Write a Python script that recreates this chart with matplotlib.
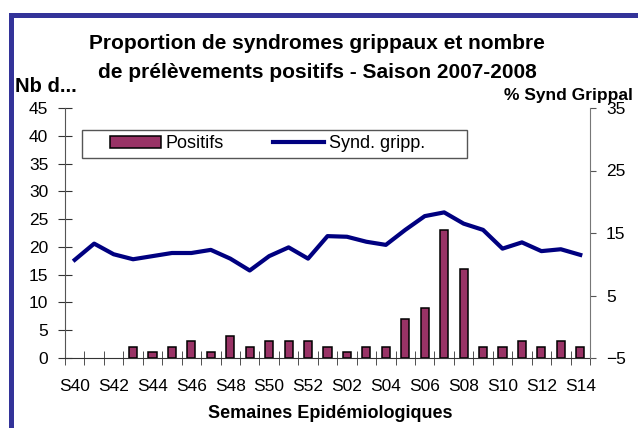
import matplotlib
matplotlib.use("Agg")
import matplotlib.pyplot as plt
from matplotlib.patches import Rectangle

plt.rcParams['font.family'] = ['Liberation Sans', 'DejaVu Sans']

# semaines S40..S52 puis S01..S14
semaines = ['S%02d' % w for w in range(40, 53)] + ['S%02d' % w for w in range(1, 15)]
positifs = [0, 0, 0, 2, 1, 2, 3, 1, 4, 2, 3, 3, 3,
            2, 1, 2, 2, 7, 9, 23, 16, 2, 2, 3, 2, 3, 2]
synd_gripp = [10.7, 13.3, 11.6, 10.8, 11.3, 11.8, 11.8, 12.3, 10.9, 9.0, 11.3, 12.7, 10.9,
              14.5, 14.4, 13.6, 13.1, 15.5, 17.7, 18.3, 16.5, 15.5, 12.5, 13.5, 12.1, 12.4, 11.5]

W, H = 638, 428
fig = plt.figure(figsize=(W / 100, H / 100), dpi=100)

# cadre bleu (seuls les bords haut et gauche sont visibles)
top = 1 - 14.5 / H
fig.patches.append(Rectangle((10.5 / W, -0.5), 2.0, top + 0.5, transform=fig.transFigure,
                             fill=False, edgecolor='#333399', linewidth=3.6))

ax = fig.add_axes([65 / W, 1 - 358 / H, 525 / W, 250 / H])
x = list(range(len(semaines)))
# pas de contour pour les semaines sans positif
lw = [1.1 if v > 0 else 0 for v in positifs]
ax.bar(x, positifs, width=0.42, color='#993366', edgecolor='black', linewidth=lw, label='Positifs')
ax.set_xlim(-0.5, len(semaines) - 0.5)
ax.set_ylim(0, 45)
ax.set_yticks(range(0, 46, 5))
ax.set_xticks(x[::2])
ax.set_xticklabels(semaines[::2])
ax.set_xticks([i - 0.5 for i in range(len(semaines) + 1)], minor=True)
ax.tick_params(axis='x', which='major', length=0, labelsize=12.5, pad=15)
ax.tick_params(axis='x', which='minor', direction='inout', length=9.5, color='#333333')
ax.tick_params(axis='y', direction='inout', length=10, labelsize=12.5, pad=7, color='#333333')
for s in ['top', 'right']:
    ax.spines[s].set_visible(False)
ax.spines['left'].set_color('#555555')
ax.spines['bottom'].set_color('#333333')
ax.patch.set_alpha(0)

ax2 = ax.twinx()
ax2.plot(x, synd_gripp, color='#000080', linewidth=3.0, label='Synd. gripp.')
ax2.set_ylim(-5, 35)
ax2.set_yticks(range(-5, 36, 10))
ax2.tick_params(axis='y', direction='out', length=4.5, labelsize=12.5, pad=7, color='#555555')
for s in ['top', 'left', 'bottom']:
    ax2.spines[s].set_visible(False)
ax2.spines['right'].set_color('#777777')

# cadre de la légende
ax2.add_patch(Rectangle(((82 - 65) / 525, (358 - 158) / 250), 385 / 525, 28 / 250,
                        transform=ax2.transAxes, fill=False, edgecolor='#555555',
                        linewidth=1.0, zorder=5))
h1, l1 = ax.get_legend_handles_labels()
h2, l2 = ax2.get_legend_handles_labels()
leg = ax2.legend(h1 + h2, l1 + l2, ncol=2, loc='center left',
                 bbox_to_anchor=((110 - 65) / 525, (358 - 144) / 250),
                 frameon=False, fontsize=13, handlelength=2.8, handleheight=0.65,
                 columnspacing=2.7, borderpad=0, handletextpad=0.3, borderaxespad=0)
leg.legend_handles[0].set_linewidth(1.1)
leg.legend_handles[0].set_edgecolor('black')

fig.text(317 / W, 1 - 49 / H, 'Proportion de syndromes grippaux et nombre',
         ha='center', va='baseline', fontsize=15, fontweight='bold')
fig.text(317 / W, 1 - 78 / H, 'de prélèvements positifs - Saison 2007-2008',
         ha='center', va='baseline', fontsize=15, fontweight='bold')
fig.text(15 / W, 1 - 92 / H, 'Nb d...', ha='left', va='baseline', fontsize=14.5, fontweight='bold')
fig.text(633 / W, 1 - 100 / H, '% Synd Grippal', ha='right', va='baseline',
         fontsize=12.5, fontweight='bold')
fig.text(330 / W, 1 - 418 / H, 'Semaines Epidémiologiques', ha='center', va='baseline',
         fontsize=13, fontweight='bold')

fig.savefig('out.png', dpi=100)
